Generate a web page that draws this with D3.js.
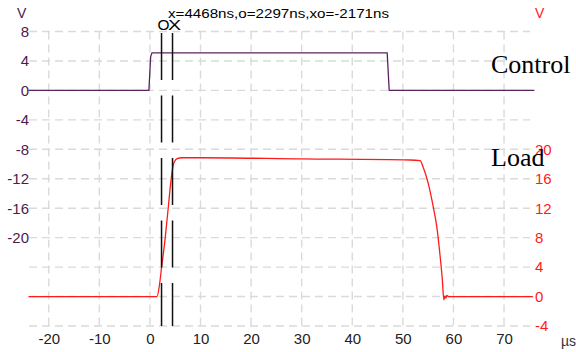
<!DOCTYPE html>
<html lang="en">
<head>
    <meta charset="UTF-8">
    <title>Control / Load waveforms</title>
    <script src="https://d3js.org/d3.v7.min.js"></script>
    <style>
        body { margin: 0; background: #fff; }
        text { font-family: Arial, "Liberation Sans", sans-serif; }
        text.serif { font-family: "Liberation Serif", "Times New Roman", serif; }
    </style>
</head>
<body>
    <div id="chart"></div>
    <script>
        // Time axis (us)
        const xTicks = [-20, -10, 0, 10, 20, 30, 40, 50, 60, 70];
        // Left axis (Control, V) and right axis (Load, V)
        const leftTicks = [8, 4, 0, -4, -8, -12, -16, -20];
        const rightTicks = [20, 16, 12, 8, 4, 0, -4];
        const gridLeft = [8, 4, 0, -4, -8, -12, -16, -20, -24, -28, -32];

        // Control channel
        const controlT = [-24, -0.2, 0.15, 0.4, 46.9, 47.3, 76];
        const controlV = [0, 0, 4.6, 5.1, 5.1, 0, 0];

        // Load channel
        const loadT = [-24, 1.4, 1.85, 2.33, 2.98, 3.64, 4.17, 4.62, 5.0, 5.3, 6.3, 10, 30, 51.4, 53.4, 54.0, 55.0, 56.0, 56.7, 57.3, 57.8, 58.1, 58.3, 58.5, 58.7, 59.0, 75.7];
        const loadV = [0, 0, 1.4, 4.1, 7.7, 12.2, 15.8, 17.9, 18.5, 18.7, 18.85, 18.85, 18.7, 18.55, 18.45, 17.6, 15.4, 12.2, 9.5, 5.9, 2.3, -0.45, 0.1, -0.2, 0.15, 0, 0];

        // Cursors (us)
        const cursorO = 2.297, cursorX = 4.468;
        const cursorText = "x=4468ns,o=2297ns,xo=-2171ns";

        const width = 576, height = 352;
        const purple = "#4d1a50", red = "#ff1a1a";

        const svg = d3.select("#chart")
            .append("svg")
            .attr("width", width)
            .attr("height", height);

        // Scales
        const x = d3.scaleLinear().domain([-24, 76]).range([28.5, 534.4]);
        const yL = d3.scaleLinear().domain([8, -32]).range([31.5, 326]);
        const yR = d3.scaleLinear().domain([36, -4]).range([31.5, 326]);

        // Grid
        svg.append("g")
            .selectAll("line")
            .data(gridLeft)
            .enter()
            .append("line")
            .attr("x1", 29).attr("x2", 530)
            .attr("y1", d => yL(d)).attr("y2", d => yL(d))
            .attr("stroke", "#dadada")
            .attr("stroke-width", 1.4)
            .attr("stroke-dasharray", "8,5");
        svg.append("g")
            .selectAll("line")
            .data(xTicks)
            .enter()
            .append("line")
            .attr("x1", d => x(d)).attr("x2", d => x(d))
            .attr("y1", yL(8)).attr("y2", yL(-32))
            .attr("stroke", "#dadada")
            .attr("stroke-width", 1.4)
            .attr("stroke-dasharray", "8,5");

        // Axes (labels only), plain hyphen for negatives
        const fmt = d => String(d);
        const xAxis = svg.append("g")
            .attr("transform", `translate(0,${yL(-32)})`)
            .call(d3.axisBottom(x).tickValues(xTicks).tickFormat(fmt).tickSize(0).tickPadding(7));
        xAxis.select(".domain").remove();
        xAxis.selectAll("text").attr("font-size", 15).attr("fill", "#222");

        const lAxis = svg.append("g")
            .attr("transform", "translate(29,0)")
            .call(d3.axisLeft(yL).tickValues(leftTicks).tickFormat(fmt).tickSize(0).tickPadding(0));
        lAxis.select(".domain").remove();
        lAxis.selectAll("text").attr("font-size", 15).attr("fill", purple);

        const rAxis = svg.append("g")
            .attr("transform", "translate(535,0)")
            .call(d3.axisRight(yR).tickValues(rightTicks).tickFormat(fmt).tickSize(0).tickPadding(0));
        rAxis.select(".domain").remove();
        rAxis.selectAll("text").attr("font-size", 15).attr("fill", red);

        // Units
        svg.append("text").attr("x", 17).attr("y", 18).attr("font-size", 14).attr("fill", purple).text("V");
        svg.append("text").attr("x", 535).attr("y", 18).attr("font-size", 14).attr("fill", red).text("V");
        svg.append("text").attr("x", 561).attr("y", 346).attr("font-size", 14).attr("fill", "#333").text("\u00b5s");

        // Traces
        const control = controlT.map((t, i) => ({t, v: controlV[i]}));
        const load = loadT.map((t, i) => ({t, v: loadV[i]}));

        svg.append("path")
            .datum(control)
            .attr("d", d3.line().x(d => x(d.t)).y(d => yL(d.v)))
            .attr("fill", "none")
            .attr("stroke", "#5a2360")
            .attr("stroke-width", 1.3);

        svg.append("path")
            .datum(load)
            .attr("d", d3.line().x(d => x(d.t)).y(d => yR(d.v)).curve(d3.curveMonotoneX))
            .attr("fill", "none")
            .attr("stroke", red)
            .attr("stroke-width", 1.3);

        // Cursors
        svg.append("g")
            .selectAll("line")
            .data([cursorO, cursorX])
            .enter()
            .append("line")
            .attr("x1", d => x(d)).attr("x2", d => x(d))
            .attr("y1", 33).attr("y2", 326)
            .attr("stroke", "#111")
            .attr("stroke-width", 1.5)
            .attr("stroke-dasharray", "47,15.5");

        svg.append("text").attr("x", 157.5).attr("y", 30).attr("font-size", 14)
            .attr("textLength", 12).attr("lengthAdjust", "spacingAndGlyphs").text("O");
        svg.append("text").attr("x", 168).attr("y", 30).attr("font-size", 14)
            .attr("textLength", 13).attr("lengthAdjust", "spacingAndGlyphs").text("X");
        svg.append("text").attr("x", 168).attr("y", 18).attr("font-size", 12)
            .attr("textLength", 221).attr("lengthAdjust", "spacingAndGlyphs").text(cursorText);

        // Channel names
        svg.append("text").attr("class", "serif").attr("x", 491).attr("y", 72.5)
            .attr("font-size", 26).attr("fill", "#000").text("Control");
        svg.append("text").attr("class", "serif").attr("x", 491).attr("y", 165.5)
            .attr("font-size", 26).attr("fill", "#000").text("Load");
    </script>
</body>
</html>
